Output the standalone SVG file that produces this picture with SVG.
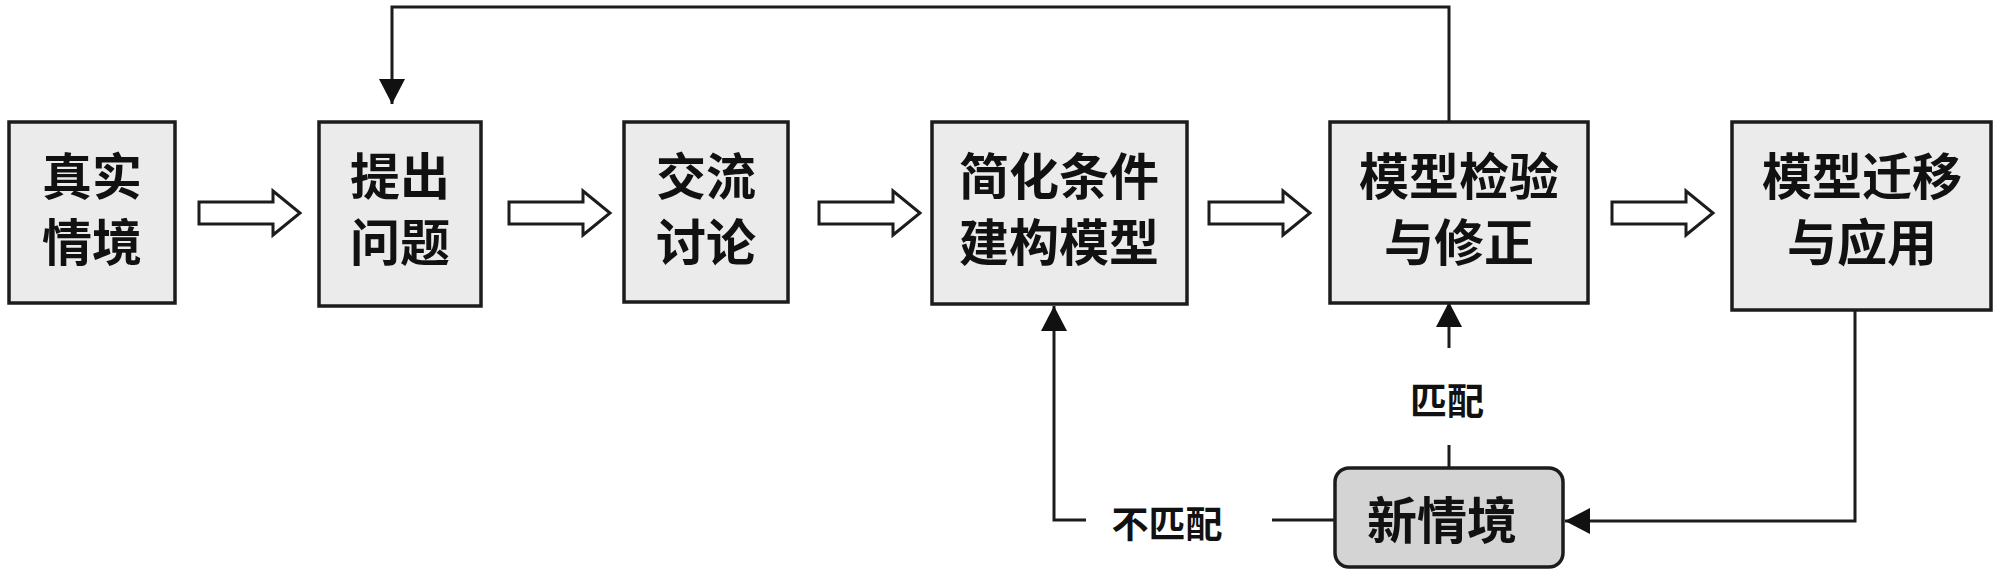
<svg xmlns="http://www.w3.org/2000/svg" width="2000" height="579" viewBox="0 0 2000 579">
<style>
.box{fill:#ebebeb;stroke:#1c1c1c;stroke-width:3.5}
.nbox{fill:#d4d4d4;stroke:#1c1c1c;stroke-width:3.5}
.t{font-family:"Noto Sans CJK SC","Noto Sans",sans-serif;font-weight:bold;font-size:50px;fill:#111;text-anchor:middle}
.lbl{font-family:"Noto Sans CJK SC","Noto Sans",sans-serif;font-weight:bold;font-size:37px;fill:#111;text-anchor:middle}
.ln{fill:none;stroke:#1c1c1c;stroke-width:3}
.ha{fill:#fff;stroke:#1c1c1c;stroke-width:3;stroke-linejoin:miter}
</style>
<defs>
<marker id="ah" markerUnits="userSpaceOnUse" markerWidth="26" markerHeight="26" refX="25" refY="13" orient="auto">
<path d="M0,0 L25,13 L0,26 Z" fill="#111"/>
</marker>
<path id="hollow" d="M0,-11 H74 V-22 L101,0 L74,22 V11 H0 Z"/>
</defs>
<rect width="2000" height="579" fill="#fff"/>
<g id="connectors">
<use href="#hollow" class="ha" x="199" y="213"/>
<use href="#hollow" class="ha" x="509" y="213"/>
<use href="#hollow" class="ha" x="819" y="213"/>
<use href="#hollow" class="ha" x="1209" y="213"/>
<use href="#hollow" class="ha" x="1612" y="213"/>
<path class="ln" d="M1449,122 V7 H392 V104" marker-end="url(#ah)"/>
<path class="ln" d="M1449,468 V445"/>
<path class="ln" d="M1449,348 V302" marker-end="url(#ah)"/>
<path class="ln" d="M1335,520 H1272"/>
<path class="ln" d="M1086,520 H1054 V306" marker-end="url(#ah)"/>
<path class="ln" d="M1855,310 V521 H1565" marker-end="url(#ah)"/>
<text class="lbl" x="1447" y="415">匹配</text>
<text class="lbl" x="1167" y="538">不匹配</text>
</g>
<g id="n1">
<rect class="box" x="9" y="122" width="166" height="181"/>
<text class="t" x="92" y="195">真实</text>
<text class="t" x="92" y="261">情境</text>
</g>
<g id="n2">
<rect class="box" x="319" y="122" width="162" height="184"/>
<text class="t" x="400" y="195">提出</text>
<text class="t" x="400" y="261">问题</text>
</g>
<g id="n3">
<rect class="box" x="624" y="122" width="164" height="180"/>
<text class="t" x="706" y="195">交流</text>
<text class="t" x="706" y="261">讨论</text>
</g>
<g id="n4">
<rect class="box" x="932" y="122" width="255" height="182"/>
<text class="t" x="1059" y="195">简化条件</text>
<text class="t" x="1059" y="261">建构模型</text>
</g>
<g id="n5">
<rect class="box" x="1330" y="122" width="258" height="181"/>
<text class="t" x="1459" y="195">模型检验</text>
<text class="t" x="1459" y="261">与修正</text>
</g>
<g id="n6">
<rect class="box" x="1732" y="122" width="259" height="188"/>
<text class="t" x="1862" y="195">模型迁移</text>
<text class="t" x="1862" y="261">与应用</text>
</g>
<g id="n7">
<rect class="nbox" x="1335" y="468" width="228" height="99" rx="14"/>
<text class="t" x="1442" y="539">新情境</text>
</g>
</svg>
